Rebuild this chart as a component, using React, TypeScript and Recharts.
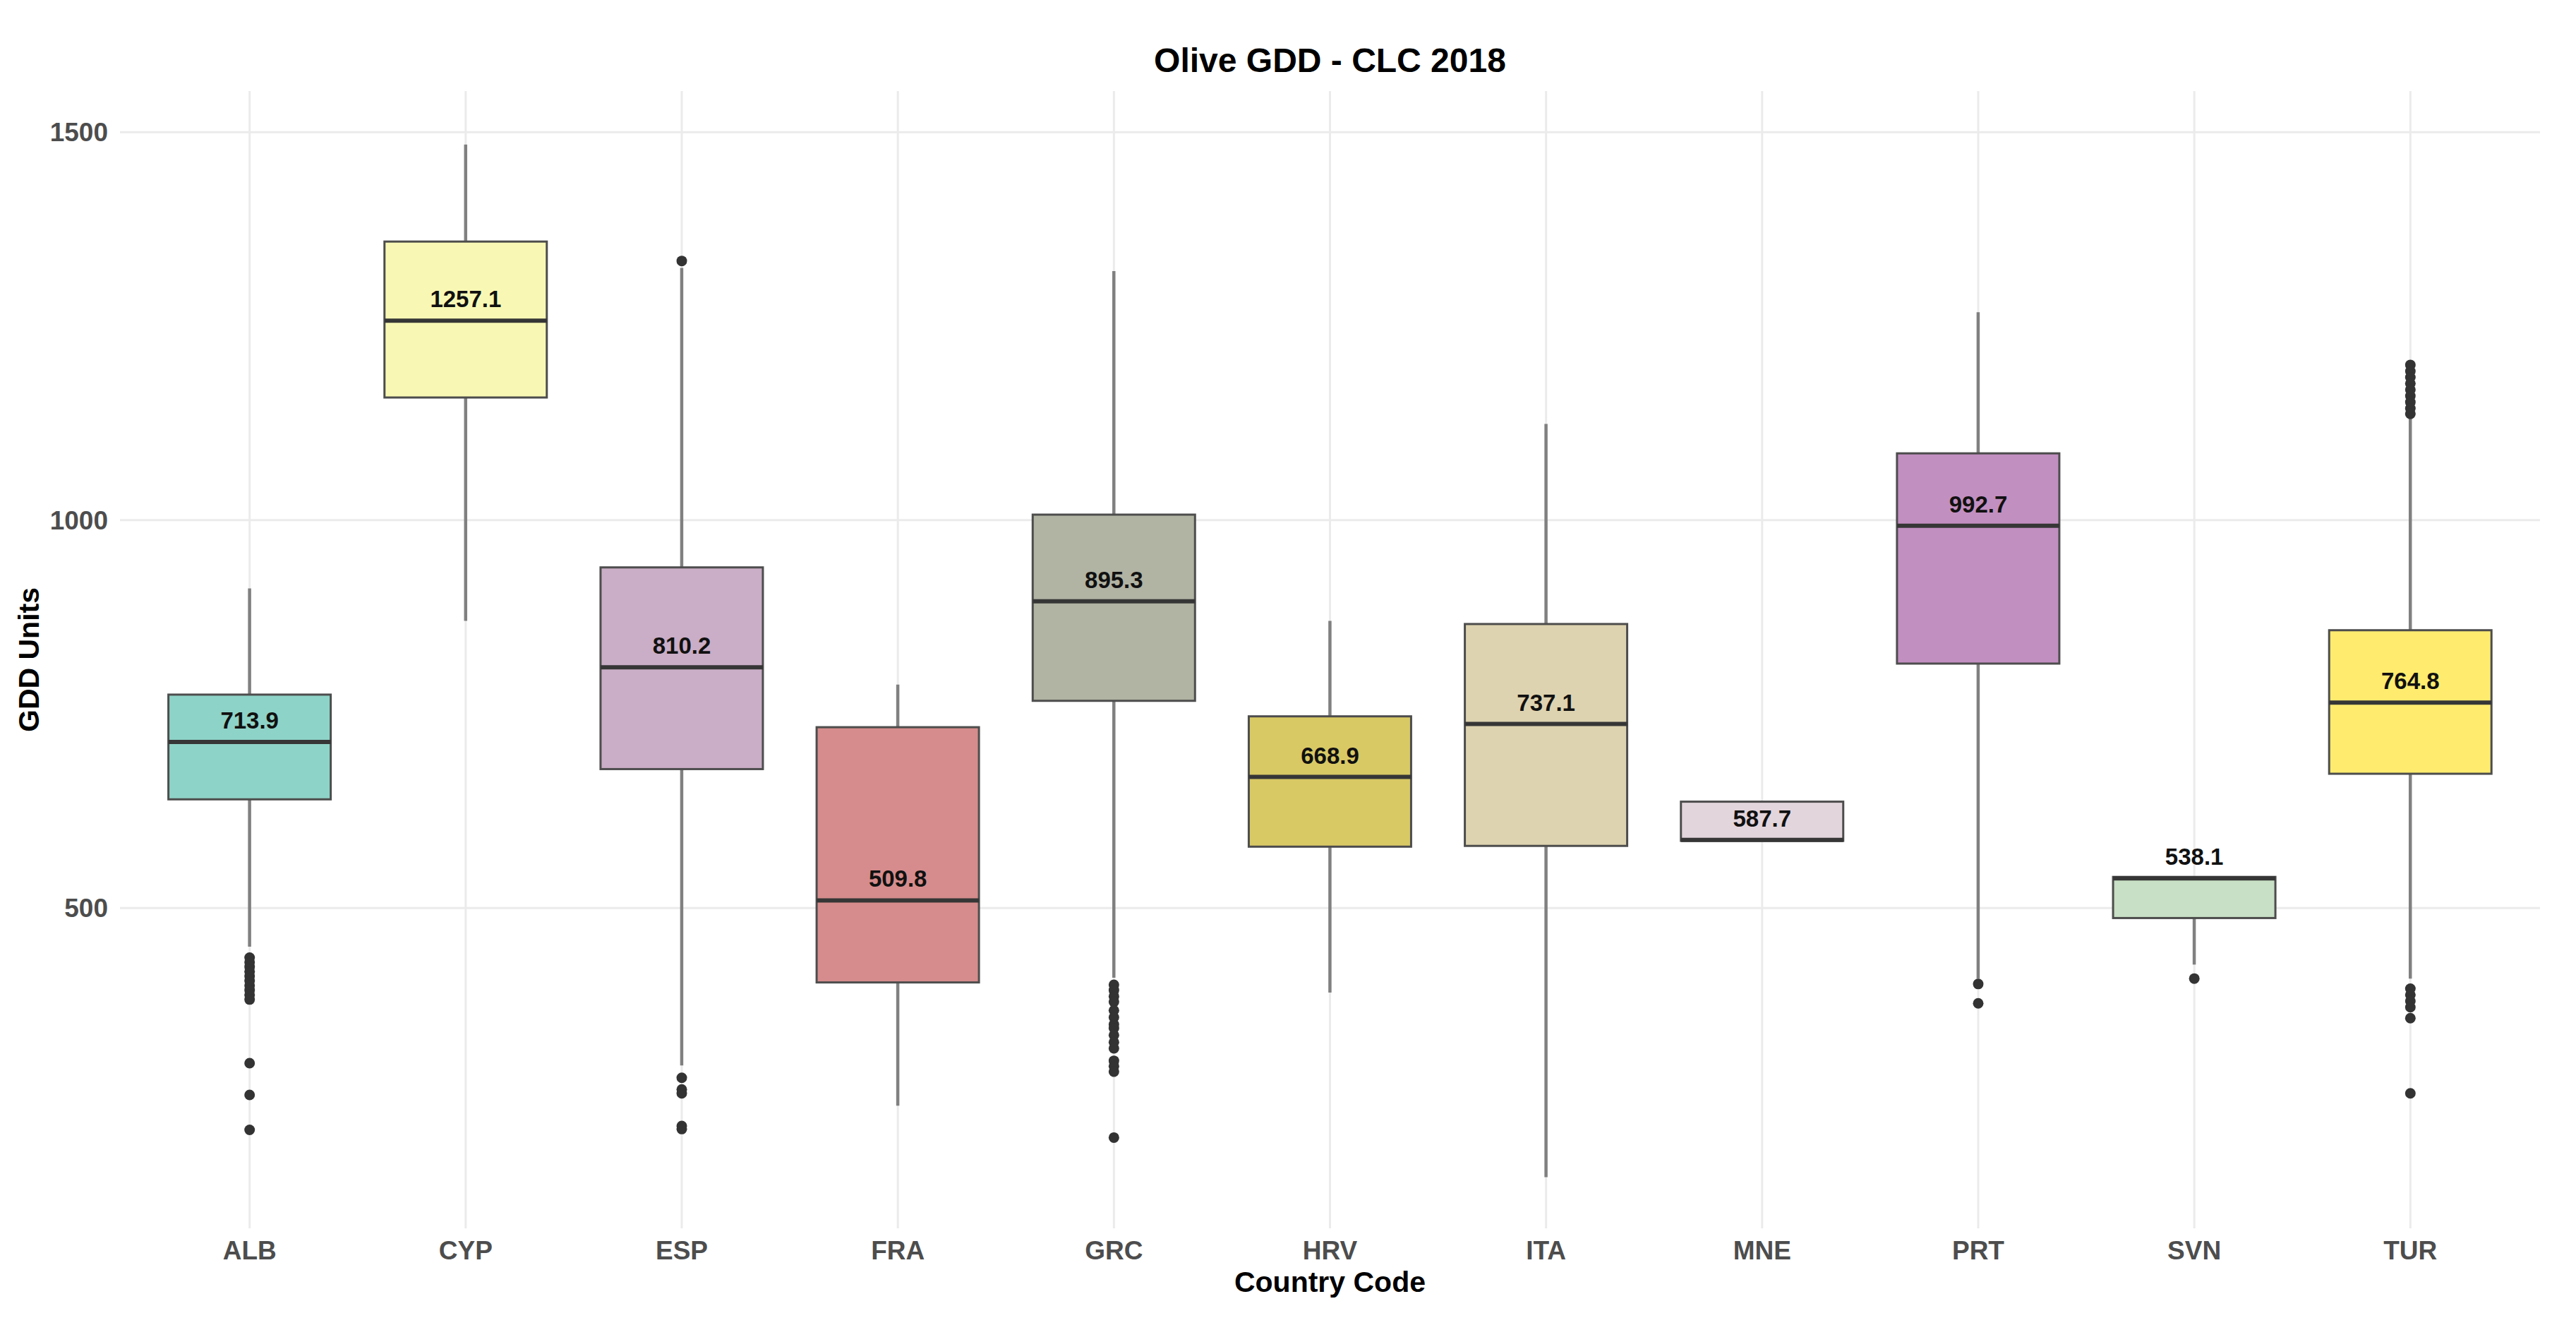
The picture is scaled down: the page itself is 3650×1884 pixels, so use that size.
import { ComposedChart, Bar, Scatter, XAxis, YAxis, CartesianGrid, Label } from "recharts";

const countries = ["ALB", "CYP", "ESP", "FRA", "GRC", "HRV", "ITA", "MNE", "PRT", "SVN", "TUR"];
const whiskerLow = [450, 870, 297, 245, 410, 391, 153, 586, 409, 427, 409];
const q1 = [640, 1158, 679, 404, 767, 579, 580, 586.5, 815, 487, 673];
const median = [713.9, 1257.1, 810.2, 509.8, 895.3, 668.9, 737.1, 587.7, 992.7, 538.1, 764.8];
const q3 = [775, 1359, 939, 733, 1007, 747, 866, 637, 1086, 540, 858];
const whiskerHigh = [912, 1484, 1325, 788, 1321, 870, 1124, 637, 1268, 540, 1133];
const outliers = [
  [436, 430, 424, 418, 412, 406, 400, 394, 388, 382, 300, 259, 214],
  [],
  [1334, 281, 266, 261, 219, 215],
  [],
  [401, 394, 386, 379, 368, 359, 350, 345, 336, 327, 319, 303, 296, 289, 204],
  [],
  [],
  [],
  [402, 377],
  [409],
  [1200, 1192, 1184, 1176, 1168, 1160, 1152, 1144, 1137, 396, 388, 380, 372, 358, 261],
];
const yTicks = [500, 1000, 1500];

const palette = ["#8ED3C7", "#F8F8B4", "#CAADC6", "#D68C8C", "#B1B3A3", "#D9C965", "#DED3B0", "#E3D5DC", "#C28FC1", "#C8E0C5", "#FFEC6F"];

const BOX_W = 230;

const rows = countries.map((c, i) => ({
  idx: i,
  country: c,
  lo: whiskerLow[i],
  q1: q1[i],
  median: median[i],
  q3: q3[i],
  hi: whiskerHigh[i],
  color: palette[i],
}));

const outlierPoints = outliers.flatMap((vals, i) => vals.map((v) => ({ idx: i, value: v })));

const WhiskerShape = (props: any) => {
  const { x, y, width, height } = props;
  const cx = x + width / 2;
  const top = Math.min(y, y + height);
  return <line x1={cx} x2={cx} y1={top} y2={top + Math.abs(height)} stroke="#808080" strokeWidth={4.5} />;
};

const BoxShape = (props: any) => {
  const { x, y, width, height, payload } = props;
  const top = Math.min(y, y + height);
  return (
    <rect x={x} y={top} width={width} height={Math.abs(height)} fill={payload.color} stroke="#4d4d4d" strokeWidth={3} />
  );
};

const MedianShape = (props: any) => {
  const { cx, cy, payload } = props;
  return (
    <g>
      <line x1={cx - BOX_W / 2} x2={cx + BOX_W / 2} y1={cy} y2={cy} stroke="#363636" strokeWidth={6} />
      <text x={cx} y={cy - 19} textAnchor="middle" fontSize={33} fontWeight="bold" fill="#111">
        {payload.median.toFixed(1)}
      </text>
    </g>
  );
};

const OutlierShape = (props: any) => <circle cx={props.cx} cy={props.cy} r={7.5} fill="#333333" />;

const tickStyle = { fill: "#4d4d4d", fontSize: 37, fontWeight: "bold" };

export default function App() {
  return (
    <div
      style={{
        position: "relative",
        width: 3634,
        height: 1868,
        background: "#fff",
        fontFamily: '"Liberation Sans", Arial, sans-serif',
      }}
    >
      <div
        style={{
          position: "absolute",
          top: 54,
          left: 162,
          width: 3429,
          textAlign: "center",
          fontSize: 48,
          lineHeight: "48px",
          fontWeight: "bold",
          color: "#000",
        }}
      >
        Olive GDD - CLC 2018
      </div>
      <ComposedChart width={3634} height={1868} data={rows} margin={{ top: 121, right: 43, bottom: 26, left: 22 }}>
        <CartesianGrid stroke="#ebebeb" strokeWidth={3} syncWithTicks />
        <XAxis
          type="number"
          dataKey="idx"
          domain={[-0.6, 10.6]}
          ticks={countries.map((_, i) => i)}
          tickFormatter={(i: number) => countries[i]}
          interval={0}
          axisLine={false}
          tickLine={false}
          tickSize={0}
          tickMargin={18}
          height={110}
          tick={tickStyle}
        >
          <Label
            value="Country Code"
            position="insideBottom"
            offset={20}
            style={{ fontSize: 41, fontWeight: "bold", fill: "#000" }}
          />
        </XAxis>
        <XAxis xAxisId="w" type="number" dataKey="idx" domain={[-0.6, 10.6]} hide />
        <YAxis
          type="number"
          domain={[87, 1553]}
          ticks={yTicks}
          allowDataOverflow
          width={140}
          axisLine={false}
          tickLine={false}
          tickSize={0}
          tickMargin={17}
          tick={tickStyle}
        >
          <Label
            value="GDD Units"
            angle={-90}
            position="insideLeft"
            offset={10}
            style={{ textAnchor: "middle", fontSize: 41, fontWeight: "bold", fill: "#000" }}
          />
        </YAxis>
        <Bar
          xAxisId="w"
          dataKey={(d: any) => [d.lo, d.hi]}
          barSize={10}
          shape={WhiskerShape}
          isAnimationActive={false}
        />
        <Bar dataKey={(d: any) => [d.q1, d.q3]} barSize={BOX_W} shape={BoxShape} isAnimationActive={false} />
        <Scatter dataKey="median" shape={MedianShape} isAnimationActive={false} />
        <Scatter data={outlierPoints} dataKey="value" shape={OutlierShape} isAnimationActive={false} />
      </ComposedChart>
    </div>
  );
}
